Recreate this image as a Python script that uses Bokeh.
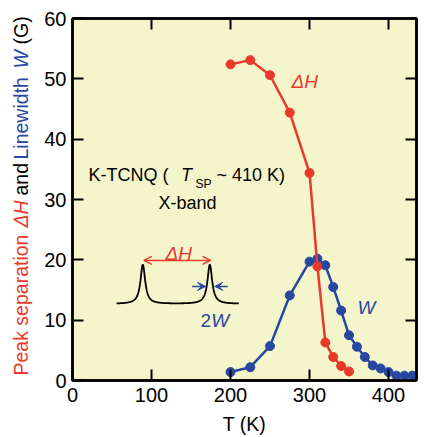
import numpy as np
from bokeh.plotting import figure
from bokeh.layouts import row, column
from bokeh.models import Range1d, LinearAxis, FixedTicker, Label, Arrow, OpenHead, VeeHead
from bokeh.embed import file_html
from bokeh.resources import INLINE

# ---- data ----
dH_T = [200, 225, 250, 275, 300, 310, 320, 330, 340, 350]
dH_vals = [52.4, 53.1, 50.6, 44.4, 34.4, 18.9, 6.3, 3.9, 2.4, 1.5]

W_T = [200, 225, 250, 275, 300, 310, 320, 330, 340, 350, 360, 370, 380, 390, 400, 410, 420, 430]
W_vals = [1.4, 2.2, 5.7, 14.1, 19.7, 20.2, 19.1, 15.5, 11.6, 7.5, 5.6, 3.9, 2.5, 2.0, 1.4, 0.8, 0.8, 0.8]

x_ticks = [0, 100, 200, 300, 400]
y_ticks = [0, 10, 20, 30, 40, 50, 60]

# schematic inset (two Lorentzian lines)
inset_T_start, inset_T_end = 55.7, 210.5
inset_peaks = [89.0, 173.8]
inset_base, inset_height, inset_gamma = 12.7, 6.5, 3.6

RED = "#E8392B"
BLUE = "#2747A0"
BG = "#F5F5CC"
FONT = "Liberation Sans"

LEFT_W = 40           # width of the y-label strip
FRAME_L, FRAME_T, FRAME_W, FRAME_H = 72, 18, 344, 362
BORDER_R = 10
PAGE_H = 437

p = figure(frame_width=FRAME_W, frame_height=FRAME_H, title=None,
           x_range=Range1d(0, 435.4), y_range=Range1d(0, 60),
           output_backend="svg", toolbar_location=None,
           min_border_left=FRAME_L - LEFT_W, min_border_top=FRAME_T,
           min_border_right=BORDER_R, min_border_bottom=0)
p.background_fill_color = BG
p.border_fill_color = "white"
p.outline_line_color = "black"
p.outline_line_width = 2.5
p.grid.visible = False

def style_axis(ax, ticks, labels=True):
    ax.ticker = FixedTicker(ticks=ticks)
    ax.major_tick_in = 11
    ax.major_tick_out = 0
    ax.minor_tick_in = 0
    ax.minor_tick_out = 0
    ax.axis_line_width = 2.5
    ax.axis_line_color = "black"
    ax.major_tick_line_width = 2
    ax.major_tick_line_color = "black"
    ax.major_label_text_font = FONT
    ax.major_label_text_color = "black"
    ax.major_label_text_font_size = "20px"
    if not labels:
        ax.major_label_overrides = {t: "" for t in ticks}
        ax.major_label_standoff = 0

style_axis(p.xaxis[0], x_ticks)
style_axis(p.yaxis[0], y_ticks)
p.xaxis[0].major_label_standoff = 7
p.yaxis[0].major_label_standoff = 6

# x-axis title
p.xaxis[0].axis_label = "T (K)"
p.xaxis[0].axis_label_text_font = FONT
p.xaxis[0].axis_label_text_font_size = "19.5px"
p.xaxis[0].axis_label_text_font_style = "normal"
p.xaxis[0].axis_label_text_color = "black"
p.xaxis[0].axis_label_standoff = 8

top = LinearAxis()
style_axis(top, [t for t in x_ticks if t > 0], labels=False)
p.add_layout(top, "above")
right = LinearAxis()
style_axis(right, [t for t in y_ticks if 0 < t < 60], labels=False)
p.add_layout(right, "right")

# ---- data series ----
p.line(W_T, W_vals, line_color=BLUE, line_width=2.5)
p.scatter(W_T, W_vals, size=9, fill_color=BLUE, line_color=BLUE)
p.line(dH_T, dH_vals, line_color=RED, line_width=2.5)
p.scatter(dH_T, dH_vals, size=9, fill_color=RED, line_color=RED)

# ---- inset schematic ----
tt = np.linspace(inset_T_start, inset_T_end, 400)
yy = inset_base + sum(inset_height / (1 + ((tt - c) / inset_gamma) ** 2) for c in inset_peaks)
p.line(tt, yy, line_color="black", line_width=1.8)

p.add_layout(Arrow(start=OpenHead(size=8, line_color=RED, line_width=1.5),
                   end=OpenHead(size=8, line_color=RED, line_width=1.5),
                   x_start=90.3, y_start=19.9, x_end=174.7, y_end=19.9,
                   line_color=RED, line_width=1.5))
p.add_layout(Arrow(end=VeeHead(size=8, fill_color=BLUE, line_color=BLUE, line_width=1),
                   x_start=151.5, y_start=15.6, x_end=168.5, y_end=15.6,
                   line_color=BLUE, line_width=1.5))
p.add_layout(Arrow(end=VeeHead(size=8, fill_color=BLUE, line_color=BLUE, line_width=1),
                   x_start=196.5, y_start=15.6, x_end=180.0, y_end=15.6,
                   line_color=BLUE, line_width=1.5))

def lab(fig, x, y, text, color="black", size="18px", style="normal", angle=0):
    fig.add_layout(Label(x=x, y=y, text=text, text_color=color, text_font=FONT,
                         text_font_size=size, text_font_style=style,
                         text_align="left", text_baseline="alphabetic",
                         angle=angle, angle_units="deg"))

# annotations inside the frame
lab(p, 20.3, 34.0, "K-TCNQ  (")
lab(p, 137.3, 34.0, "T", style="italic")
lab(p, 155.7, 32.65, "SP", size="12px")
lab(p, 182.3, 34.0, "~ 410 K)")
lab(p, 108.9, 29.34, "X-band")
lab(p, 277.2, 49.56, "ΔH", color=RED, size="19px", style="italic")
lab(p, 360.8, 12.15, "W", color=BLUE, size="19px", style="italic")
lab(p, 117.7, 21.1, "ΔH", color=RED, size="19px", style="italic")
lab(p, 162.0, 9.95, "2", color=BLUE, size="19px")
lab(p, 175.5, 9.95, "W", color=BLUE, size="19px", style="italic")

# y-axis label strip (coordinates = page pixels)
yl = figure(frame_width=LEFT_W, frame_height=PAGE_H, title=None,
            x_range=Range1d(0, LEFT_W), y_range=Range1d(PAGE_H, 0),
            x_axis_type=None, y_axis_type=None, min_border=0,
            min_border_left=0, min_border_right=0,
            min_border_top=0, min_border_bottom=0,
            output_backend="svg", toolbar_location=None)
yl.outline_line_color = None
yl.grid.visible = False
yl.background_fill_color = "white"
yl.border_fill_color = "white"

ylx = 20
lab(yl, ylx, 375, "Peak separation", color=RED, size="19.5px", angle=90)
lab(yl, ylx, 227, "ΔH", color=RED, size="19.5px", style="italic", angle=90)
lab(yl, ylx, 195, "and", size="19.5px", angle=90)
lab(yl, ylx, 159, "Linewidth", color=BLUE, size="19.5px", angle=90)
lab(yl, ylx, 68, "W", color=BLUE, size="19.5px", style="italic", angle=90)
lab(yl, ylx, 44, "(G)", size="19.5px", angle=90)

layout = row(yl, column(p, spacing=0), spacing=0)
open("out.html", "w").write(file_html(layout, INLINE))
